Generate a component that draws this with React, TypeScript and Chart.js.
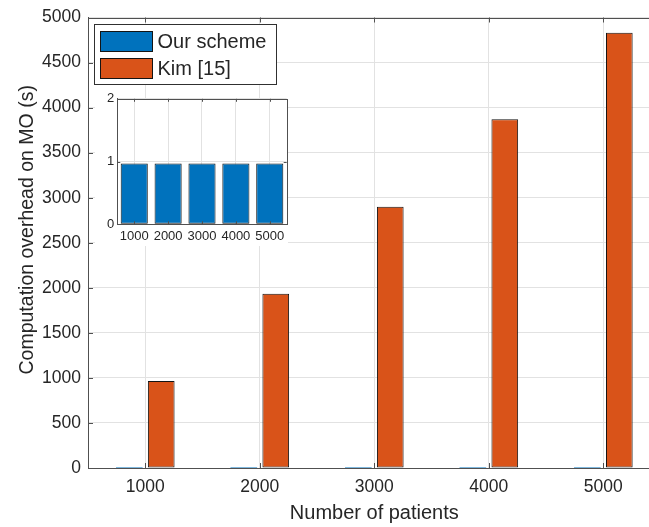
import React, { useEffect, useRef } from "react";
import { Chart, registerables } from "chart.js";

Chart.register(...registerables);

// Patient counts on the x axis
const categories = ["1000", "2000", "3000", "4000", "5000"];
// Computation overhead on MO, in seconds
const ourScheme = [0.97, 0.97, 0.97, 0.97, 0.97];
const kimScheme = [966, 1935, 2900, 3870, 4830];
const seriesNames = ["Our scheme", "Kim [15]"];

const FONT = "'Liberation Sans', Arial, Helvetica, sans-serif";
const TEXT = "#262626";
const AXIS = "#505050";
const GRID = "#e2e2e2";
const EDGE = "#141414";
const BLUE = "#0072BD";
const ORANGE = "#D95319";

const MAIN_W = 700;
const MAIN_H = 527;
const INSET_W = 200;
const INSET_H = 160;

const plainNumber = (v: any) => String(v);

function drawInwardTicks(chart: any, len: number) {
  const { ctx, chartArea: a, scales } = chart;
  ctx.save();
  ctx.strokeStyle = AXIS;
  ctx.lineWidth = 1;
  ctx.beginPath();
  scales.y.ticks.forEach((t: any) => {
    const py = Math.round(scales.y.getPixelForValue(t.value)) + 0.5;
    ctx.moveTo(a.left, py);
    ctx.lineTo(a.left + len, py);
    ctx.moveTo(a.right, py);
    ctx.lineTo(a.right - len, py);
  });
  scales.x.ticks.forEach((_t: any, i: number) => {
    const px = Math.round(scales.x.getPixelForTick(i)) + 0.5;
    ctx.moveTo(px, a.bottom);
    ctx.lineTo(px, a.bottom - len);
    ctx.moveTo(px, a.top);
    ctx.lineTo(px, a.top + len);
  });
  ctx.stroke();
  // closed box around the plot area
  ctx.strokeRect(
    Math.round(a.left) + 0.5,
    Math.round(a.top) + 0.5,
    Math.round(a.right) - Math.round(a.left),
    Math.round(a.bottom) - Math.round(a.top)
  );
  ctx.restore();
}

const mainDecor = {
  id: "mainDecor",
  afterDraw(chart: any) {
    drawInwardTicks(chart, 5);
    const { ctx } = chart;
    ctx.save();
    // y axis title
    ctx.translate(33.3, 229.8);
    ctx.rotate(-Math.PI / 2);
    ctx.fillStyle = TEXT;
    ctx.font = `19.5px ${FONT}`;
    ctx.textAlign = "center";
    ctx.textBaseline = "alphabetic";
    ctx.fillText("Computation overhead on MO (s)", 0, 0);
    ctx.restore();

    // legend
    ctx.save();
    ctx.fillStyle = "#ffffff";
    ctx.fillRect(94.5, 24.5, 182, 60);
    ctx.strokeStyle = "#303030";
    ctx.lineWidth = 1;
    ctx.strokeRect(94.5, 24.5, 182, 60);
    const colors = [BLUE, ORANGE];
    const rows = [31.5, 58.5];
    ctx.font = `20px ${FONT}`;
    ctx.textBaseline = "middle";
    ctx.textAlign = "left";
    seriesNames.forEach((name, i) => {
      ctx.fillStyle = colors[i];
      ctx.fillRect(100.5, rows[i], 52, 20);
      ctx.strokeStyle = EDGE;
      ctx.strokeRect(100.5, rows[i], 52, 20);
      ctx.fillStyle = TEXT;
      ctx.fillText(name, 157.5, rows[i] + 10.5);
    });
    ctx.restore();
  },
};

const insetDecor = {
  id: "insetDecor",
  beforeDraw(chart: any) {
    const { ctx, chartArea: a } = chart;
    ctx.save();
    ctx.fillStyle = "#ffffff";
    ctx.fillRect(0, Math.round(a.top), Math.round(a.right) + 1, INSET_H - Math.round(a.top) - 2);
    ctx.restore();
  },
  afterDraw(chart: any) {
    drawInwardTicks(chart, 3);
  },
};

export default function App() {
  const mainRef = useRef<HTMLCanvasElement | null>(null);
  const insetRef = useRef<HTMLCanvasElement | null>(null);

  useEffect(() => {
    if (!mainRef.current || !insetRef.current) return;

    const main = new Chart(mainRef.current, {
      type: "bar",
      data: {
        labels: categories,
        datasets: [
          {
            label: seriesNames[0],
            data: ourScheme,
            backgroundColor: BLUE,
            borderColor: EDGE,
            borderWidth: 0,
          },
          {
            label: seriesNames[1],
            data: kimScheme,
            backgroundColor: ORANGE,
            borderColor: EDGE,
            borderWidth: 1,
            borderSkipped: false,
          },
        ],
      },
      options: {
        animation: false,
        responsive: false,
        devicePixelRatio: 1,
        datasets: { bar: { categoryPercentage: 0.558, barPercentage: 0.835 } },
        layout: { padding: { top: 16, right: MAIN_W - 660.6, left: 0, bottom: 0 } },
        plugins: { legend: { display: false }, tooltip: { enabled: false } },
        scales: {
          x: {
            type: "category",
            offset: true,
            grid: { offset: false, color: GRID, drawTicks: false },
            border: { color: AXIS, width: 1 },
            ticks: {
              color: TEXT,
              font: { family: FONT, size: 17.5 },
              padding: 9,
              maxRotation: 0,
              autoSkip: false,
            },
            title: {
              display: true,
              text: "Number of patients",
              color: TEXT,
              font: { family: FONT, size: 20 },
              padding: { top: 0, bottom: 1.5 },
            },
            afterFit: (s: any) => {
              s.height = 59;
            },
          },
          y: {
            min: 0,
            max: 5000,
            grid: { color: GRID, drawTicks: false },
            border: { color: AXIS, width: 1 },
            ticks: {
              stepSize: 500,
              color: TEXT,
              font: { family: FONT, size: 17.5 },
              padding: 7,
              callback: plainNumber,
            },
            afterFit: (s: any) => {
              s.width = 88;
            },
          },
        },
      },
      plugins: [mainDecor],
    });

    const inset = new Chart(insetRef.current, {
      type: "bar",
      data: {
        labels: categories,
        datasets: [
          {
            label: seriesNames[0],
            data: ourScheme,
            backgroundColor: BLUE,
            borderColor: EDGE,
            borderWidth: 1,
            borderSkipped: false,
          },
        ],
      },
      options: {
        animation: false,
        responsive: false,
        devicePixelRatio: 1,
        datasets: { bar: { categoryPercentage: 1, barPercentage: 0.8 } },
        layout: { padding: { top: 9.7, right: INSET_W - 191.7, left: 0, bottom: 0 } },
        plugins: { legend: { display: false }, tooltip: { enabled: false } },
        scales: {
          x: {
            type: "category",
            offset: true,
            grid: { offset: false, color: GRID, drawTicks: false },
            border: { color: AXIS, width: 1 },
            ticks: {
              color: TEXT,
              font: { family: FONT, size: 13 },
              padding: 4,
              maxRotation: 0,
              autoSkip: false,
            },
            afterFit: (s: any) => {
              s.height = INSET_H - 136.3;
            },
          },
          y: {
            min: 0,
            max: 2,
            grid: { color: GRID, drawTicks: false },
            border: { color: AXIS, width: 1 },
            ticks: {
              stepSize: 1,
              color: TEXT,
              font: { family: FONT, size: 13 },
              padding: 3,
              callback: plainNumber,
            },
            afterFit: (s: any) => {
              s.width = 22.3;
            },
          },
        },
      },
      plugins: [insetDecor],
    });

    return () => {
      main.destroy();
      inset.destroy();
    };
  }, []);

  return (
    <div
      style={{
        position: "absolute",
        left: 0,
        top: 0,
        width: 649,
        height: 527,
        overflow: "hidden",
        background: "#ffffff",
      }}
    >
      <canvas
        ref={mainRef}
        width={MAIN_W}
        height={MAIN_H}
        style={{ position: "absolute", left: 0, top: 0, width: MAIN_W, height: MAIN_H }}
      />
      <canvas
        ref={insetRef}
        width={INSET_W}
        height={INSET_H}
        style={{ position: "absolute", left: 95, top: 88, width: INSET_W, height: INSET_H }}
      />
    </div>
  );
}
